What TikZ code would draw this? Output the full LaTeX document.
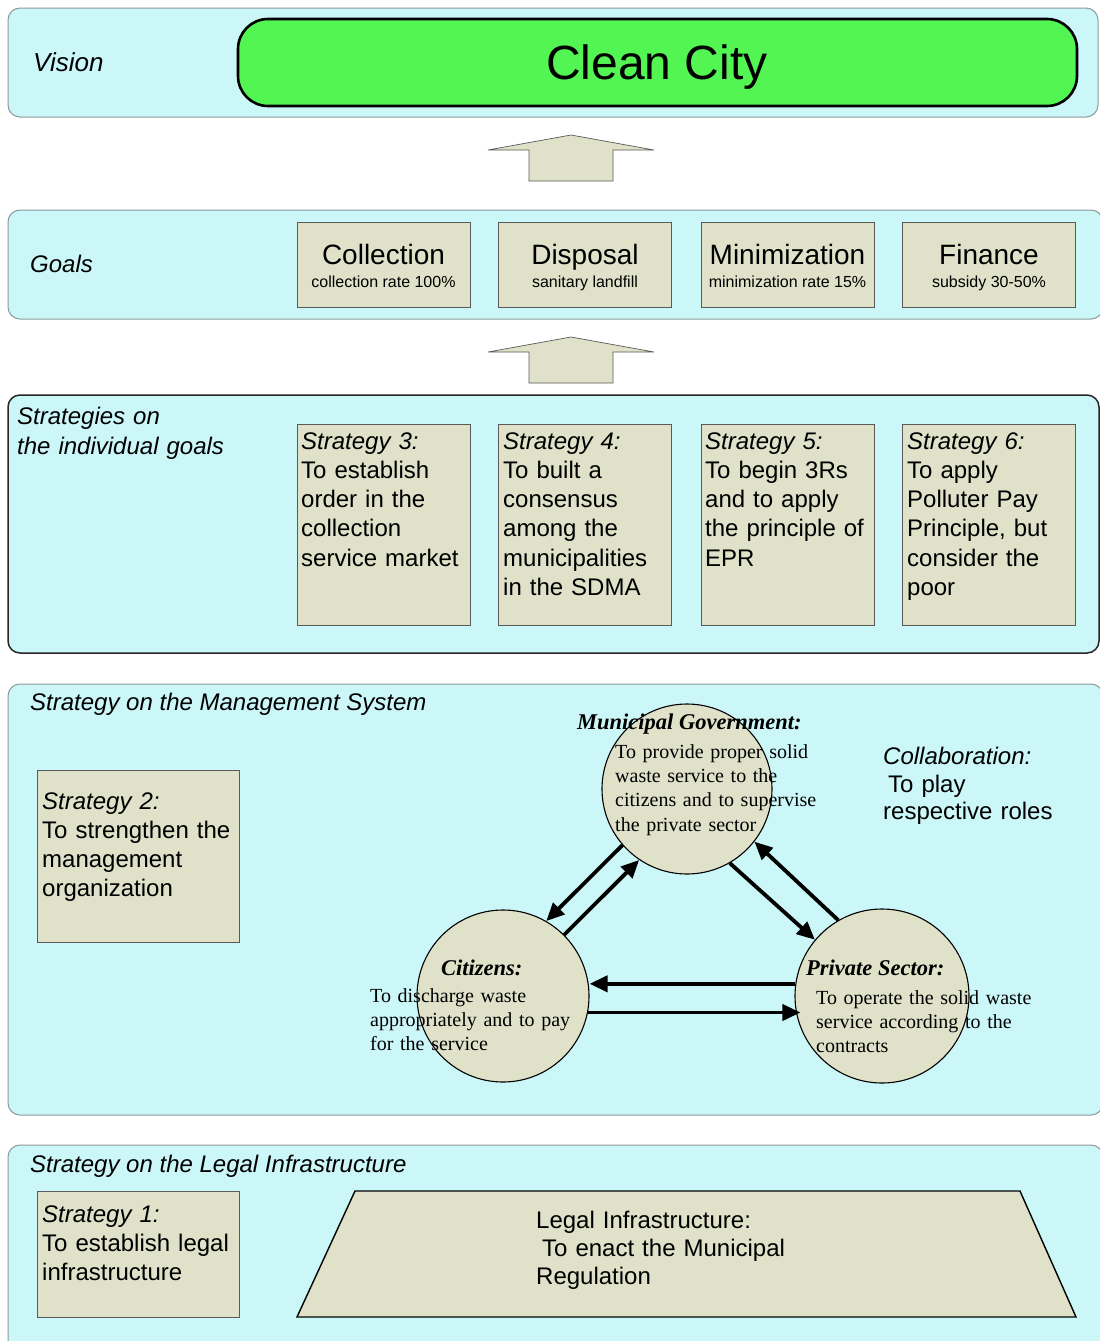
\documentclass[tikz,border=0pt]{standalone}
\usepackage{fontspec}
\setmainfont{Liberation Sans}
\newfontfamily\timesfont{Liberation Serif}
\usetikzlibrary{arrows.meta}
\definecolor{panelfill}{HTML}{CCF7F9}
\definecolor{panelline}{HTML}{8A9A9C}
\definecolor{boxfill}{HTML}{DFE1C9}
\definecolor{boxline}{HTML}{5A5A5A}
\definecolor{cleangreen}{HTML}{52F552}
\begin{document}
\begin{tikzpicture}[x=1pt,y=-1pt,
  panel/.style={fill=panelfill,draw=panelline,line width=1pt,rounded corners=12pt},
  boxstyle/.style={draw=boxline,fill=boxfill,line width=0.9pt,inner sep=0pt},
  goalbox/.style={boxstyle,minimum width=173pt,minimum height=85pt},
  stratbox/.style={boxstyle,minimum width=173pt,minimum height=201pt},
  sidebox/.style={boxstyle,minimum width=202pt},
  uparrow/.style={fill=boxfill,draw=boxline,line width=0.7pt},
  circ/.style={circle,draw=black,fill=boxfill,line width=1.1pt,inner sep=0pt},
  lbl/.style={anchor=base west,inner sep=0pt,font=\fontsize{24}{29.3}\selectfont\itshape},
  btxt/.style={anchor=base west,inner sep=0pt,text width=220pt,align=left,font=\fontsize{24}{29.3}\selectfont},
  gtitle/.style={anchor=base,inner sep=0pt,font=\fontsize{28}{32}\selectfont},
  gsub/.style={anchor=base,inner sep=0pt,font=\fontsize{16}{18}\selectfont},
  ctitle/.style={anchor=base west,inner sep=0pt,font=\fontsize{22.5}{26}\timesfont\bfseries\itshape},
  ctxt/.style={anchor=base west,inner sep=0pt,text width=240pt,align=left,font=\fontsize{20}{24.4}\timesfont},
  conn/.style={line width=3.8pt,-{Triangle[length=18pt,width=16pt]}}]
\useasboundingbox (0,0) rectangle (1100,1341);
\clip (0,0) rectangle (1100,1341);
\fill[white] (0,0) rectangle (1100,1341);

% ---------- panels ----------
\draw[panel] (8,8) rectangle (1098,117);
\draw[panel] (8,210) rectangle (1103,319);
\draw[panel,draw=black!85,line width=1.5pt] (8,395) rectangle (1099,653);
\draw[panel] (8,684) rectangle (1103,1115);
\draw[panel] (8,1145) rectangle (1103,1360);

% ---------- vision ----------
\node[lbl,font=\fontsize{26}{30}\selectfont\itshape] (vision) at (33,71) {Vision};
\draw[fill=cleangreen,draw=black,line width=2.6pt,rounded corners=30pt] (238,19) rectangle (1077,106);
\node[anchor=base,inner sep=0pt,font=\fontsize{48}{52}\selectfont] (clean) at (657,79) {Clean City};

% ---------- up arrows ----------
\draw[uparrow] (571,135) -- (654,150) -- (613,150) -- (613,181) -- (529,181) -- (529,150) -- (488,150) -- cycle;
\draw[uparrow] (571,337) -- (654,352) -- (613,352) -- (613,383) -- (529,383) -- (529,352) -- (488,352) -- cycle;

% ---------- goals ----------
\node[lbl] (goals) at (30,272.6) {Goals};
\node[goalbox] (g1) at (383.5,264.5) {};
\node[goalbox] (g2) at (585,264.5) {};
\node[goalbox] (g3) at (787.5,264.5) {};
\node[goalbox] (g4) at (989,264.5) {};
\node[gtitle] (g1t) at (383.5,264) {Collection};
\node[gsub]   (g1s) at (383.5,287) {collection rate 100\%};
\node[gtitle] (g2t) at (585,264) {Disposal};
\node[gsub]   (g2s) at (585,287) {sanitary landfill};
\node[gtitle] (g3t) at (787.5,264) {Minimization};
\node[gsub]   (g3s) at (787.5,287) {minimization rate 15\%};
\node[gtitle] (g4t) at (989,264) {Finance};
\node[gsub]   (g4s) at (989,287) {subsidy 30-50\%};

% ---------- strategies on individual goals ----------
\node[btxt,font=\fontsize{24}{30}\selectfont\itshape] (stratlbl) at (17,424) {Strategies on\\the individual goals};
\node[stratbox] (s3) at (383.5,524.5) {};
\node[stratbox] (s4) at (585,524.5) {};
\node[stratbox] (s5) at (787.5,524.5) {};
\node[stratbox] (s6) at (989,524.5) {};
\node[btxt] (s3t) at (301,449) {\textit{Strategy 3:}\\To establish\\order in the\\collection\\service market};
\node[btxt] (s4t) at (503,449) {\textit{Strategy 4:}\\To built a\\consensus\\among the\\municipalities\\in the SDMA};
\node[btxt] (s5t) at (705,449) {\textit{Strategy 5:}\\To begin 3Rs\\and to apply\\the principle of\\EPR};
\node[btxt] (s6t) at (907,449) {\textit{Strategy 6:}\\To apply\\Polluter Pay\\Principle, but\\consider the\\poor};

% ---------- management system ----------
\node[lbl] (mgmtlbl) at (30,710.6) {Strategy on the Management System};
\node[sidebox,minimum height=172pt] (s2) at (138,856) {};
\node[btxt] (s2t) at (42,809) {\textit{Strategy 2:}\\To strengthen the\\management\\organization};

\node[circ,minimum size=170pt] (mg) at (687,789) {};
\node[circ,minimum size=172pt] (cit) at (503,996) {};
\node[circ,minimum size=174pt] (ps) at (882,996) {};

\node[ctitle] (mgt) at (577,729.5) {Municipal Government:};
\node[ctxt] (mgb) at (615,758) {To provide proper solid\\waste service to the\\citizens and to supervise\\the private sector};
\node[ctitle] (citt) at (441,975) {Citizens:};
\node[ctxt] (citb) at (370,1002) {To discharge waste\\appropriately and to pay\\for the service};
\node[ctitle] (pst) at (806,975) {Private Sector:};
\node[ctxt] (psb) at (816,1004) {To operate the solid waste\\service according to the\\contracts};

\node[btxt,font=\fontsize{24}{27.5}\selectfont] (collab) at (883,764.6) {\textit{Collaboration:}\\\hspace*{5pt}To play\\respective roles};

\draw[conn] (mg.221) -- (cit.60);
\draw[conn] (cit.45) -- (mg.236);
\draw[conn] (mg.300) -- (ps.140);
\draw[conn] (ps.120) -- (mg.322);
\draw[conn] (ps.172) -- (ps.172 -| cit.east);
\draw[conn] (cit.349) -- ([xshift=6pt]cit.349 -| ps.west);

% ---------- legal infrastructure ----------
\node[lbl] (legallbl) at (30,1172.6) {Strategy on the Legal Infrastructure};
\node[sidebox,minimum height=126pt] (s1) at (138,1254) {};
\node[btxt] (s1t) at (42,1222) {\textit{Strategy 1:}\\To establish legal\\infrastructure};
\draw[fill=boxfill,draw=black,line width=1.4pt] (297,1317) -- (355,1191) -- (1020,1191) -- (1076,1317) -- cycle;
\node[btxt,text width=320pt,font=\fontsize{24}{28}\selectfont] (legalt) at (536,1228.6) {Legal Infrastructure:\\\hspace*{6pt}To enact the Municipal\\Regulation};
\end{tikzpicture}
\end{document}
